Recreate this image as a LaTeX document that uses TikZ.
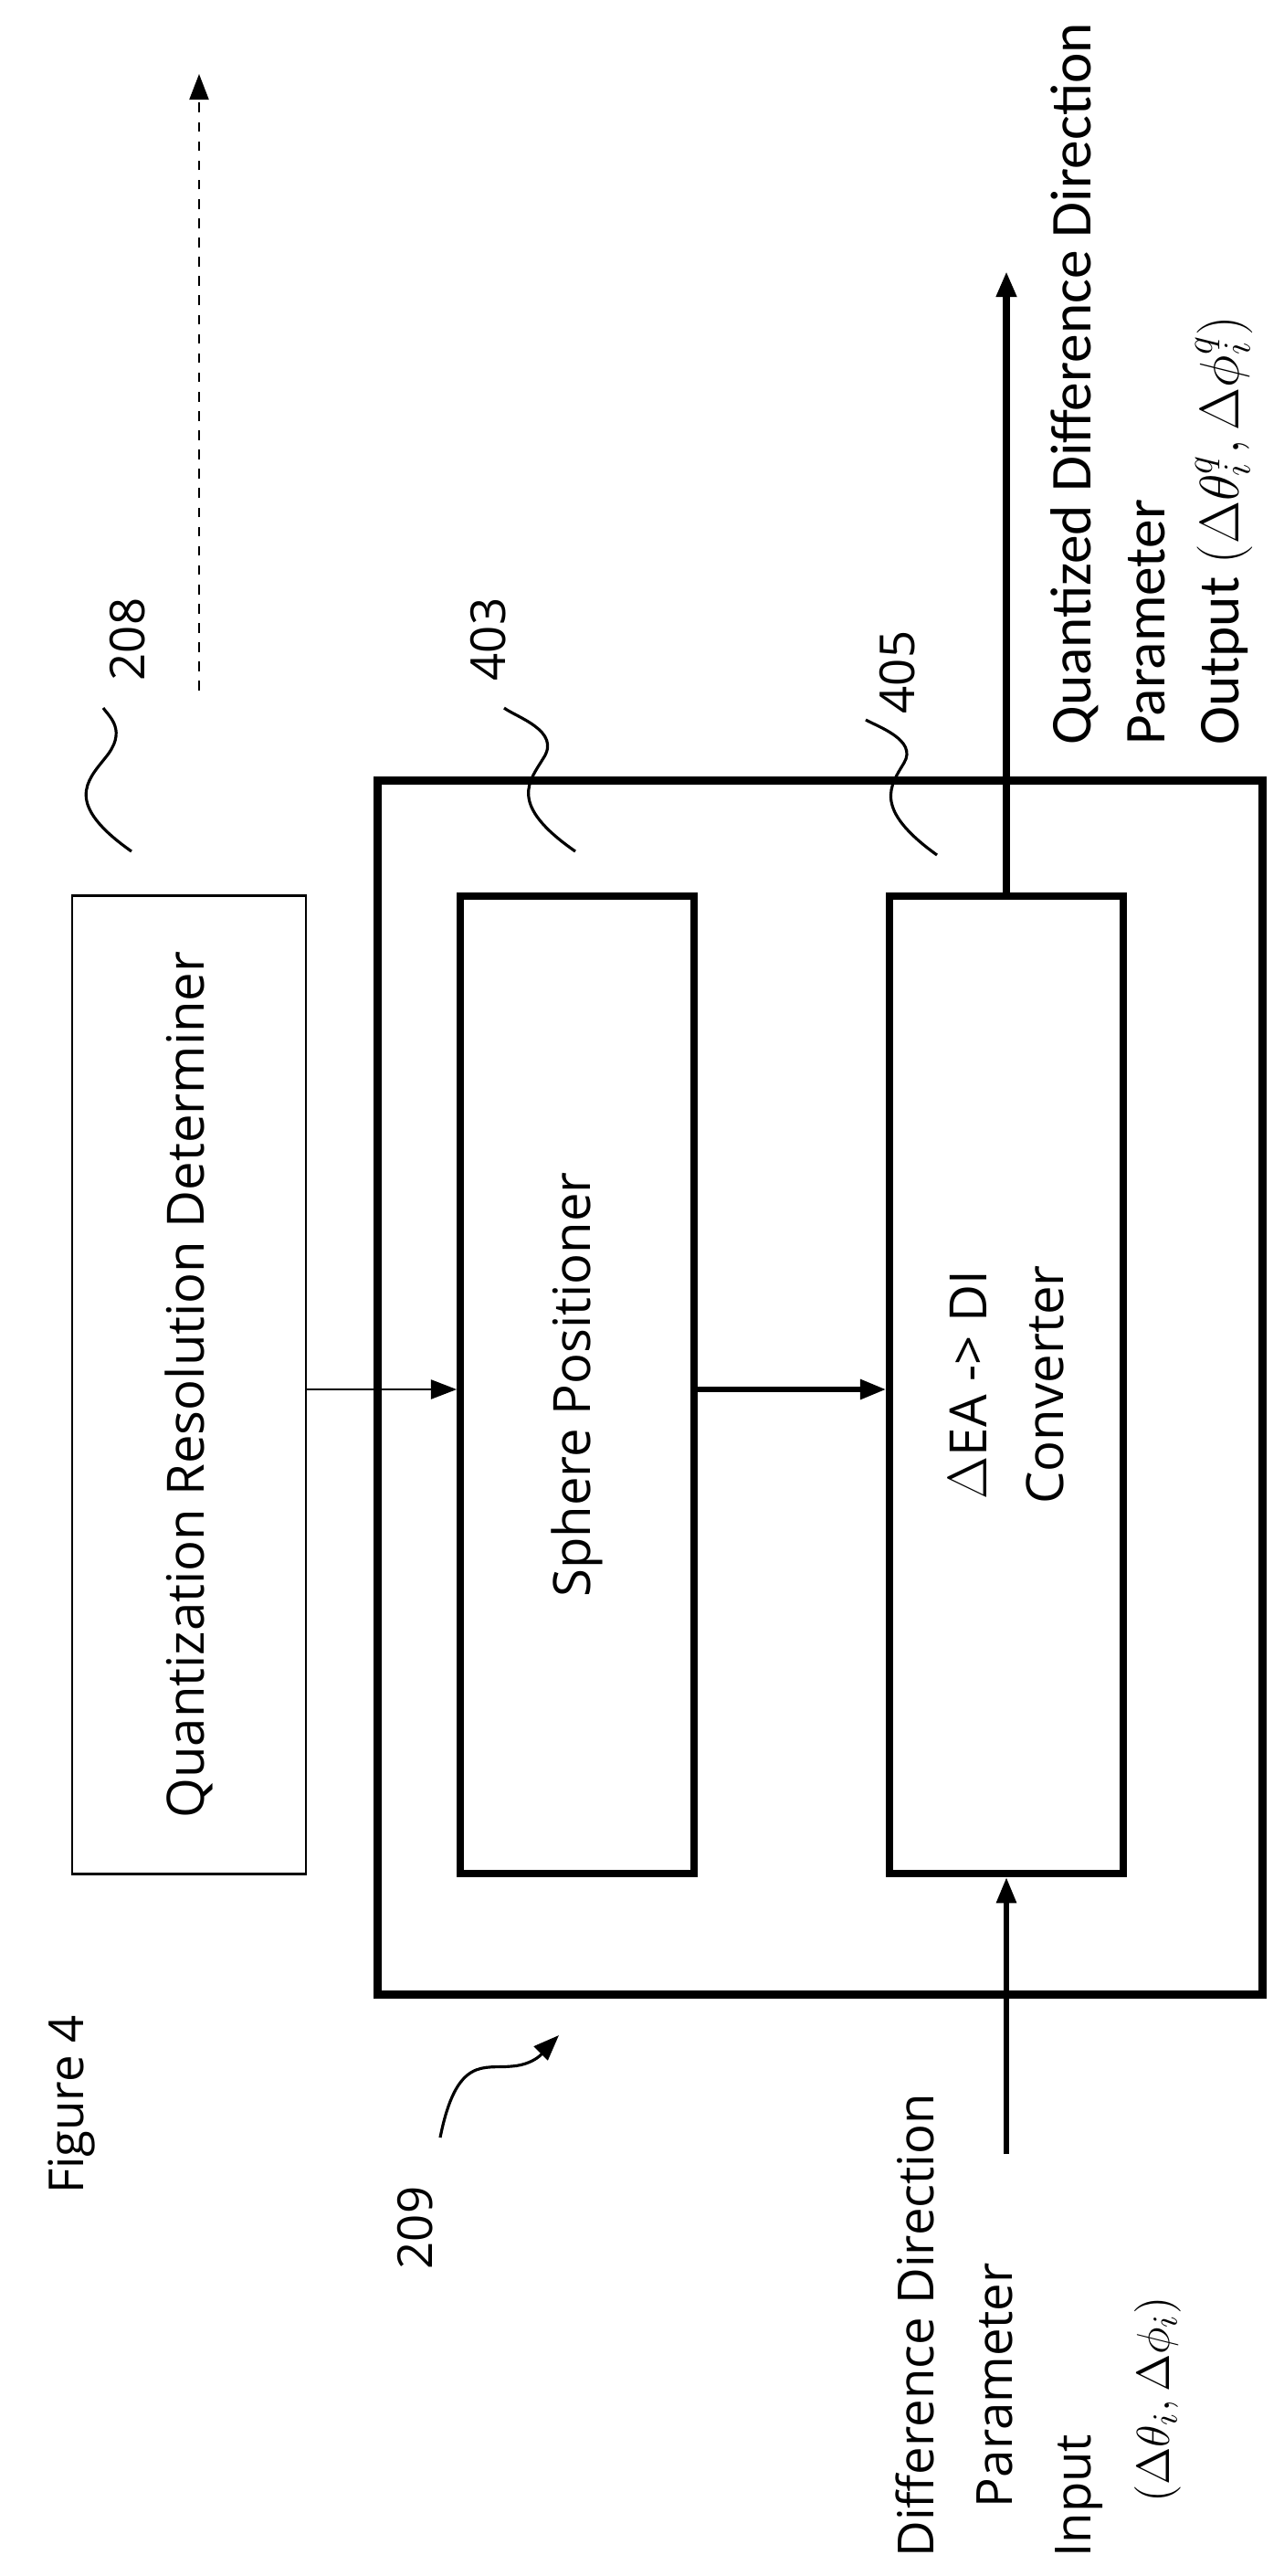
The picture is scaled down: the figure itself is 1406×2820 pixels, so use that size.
\documentclass[tikz,border=0pt]{standalone}
\usepackage{fontspec}
\setmainfont{Open Sans}
\newfontfamily\narrowfont{Carlito}
\usetikzlibrary{positioning,arrows.meta}

\begin{document}
\begin{tikzpicture}[x=0.01cm,y=-0.01cm,
    block/.style={draw,line width=2.2pt,minimum width=2.56cm,minimum height=10.7cm,inner sep=0pt},
    thinblock/.style={block,line width=0.8pt},
    boxtext/.style={rotate=90,font=\fontsize{16}{24}\selectfont,align=center},
    sidetext/.style={rotate=90,anchor=north west,align=left},
    refnum/.style={rotate=90,font=\fontsize{15}{18}\selectfont},
    squiggle/.style={line width=0.9pt},
    tip/.style={-{Triangle[length=8pt,width=6pt]}}]
    \useasboundingbox (0,0) rectangle (1406,2820);

    % Blocks
    \node[draw,line width=2.6pt,minimum width=9.68cm,minimum height=13.28cm] (outer) at (898,1519) {};
    \node[thinblock] (qrd) at (207,1516) {};
    \node[boxtext] at (qrd) {Quantization Resolution Determiner};
    \node[block] (sphere) at (632,1516) {};
    \node[boxtext] at (sphere) {Sphere Positioner};
    \node[block] (conv) at (1102,1516) {};
    \node[boxtext] at (conv) {$\Delta$EA -> DI\\Converter};

    % Connectors
    \draw[tip,line width=0.6pt] (qrd.east |- 0,1521) -- (sphere.west |- 0,1521);
    \draw[tip,line width=1.6pt] (sphere.east |- 0,1521) -- (conv.west |- 0,1521);
    \coordinate (out) at (1102,297);
    \coordinate (in) at (1102,2358);
    \draw[tip,line width=2pt] (conv.north) -- (out);
    \draw[tip,line width=1.6pt] (in) -- (conv.south);
    \coordinate (dashA) at (218,756);
    \coordinate (dashB) at (218,81);
    \draw[tip,dashed,line width=0.6pt] (dashA) -- (dashB);

    % Input and output texts
    \node[sidetext,font=\narrowfont\fontsize{18}{23}\selectfont] (outtxt) at (1138,828)
        {Quantized Difference Direction\\Parameter\\Output $\left(\Delta\theta_i^q,\Delta\phi_i^q\right)$};
    \node[sidetext,font=\fontsize{15.5}{24.5}\selectfont] (intxt) at (968,2812)
        {Difference Direction\\\hspace*{1em}Parameter\\Input\\\hspace*{1.1em}$\left(\Delta\theta_i,\Delta\phi_i\right)$};

    % Reference numerals
    \node[refnum] (n208) at (140,700) {208};
    \node[refnum] (n403) at (535,700) {403};
    \node[refnum] (n405) at (983,736) {405};
    \node[refnum] (n209) at (455,2439) {209};
    \node[rotate=90,font=\fontsize{15}{18}\selectfont] (fig) at (78,2304) {Figure 4};
    \draw[squiggle] (144,932) .. controls (70,880) and (95,855) .. (115,830) .. controls (140,800) and (120,785) .. (113,775);
    \draw[squiggle] (630,932) .. controls (555,880) and (580,855) .. (595,830) .. controls (615,800) and (565,785) .. (552,775);
    \draw[squiggle] (1026,936) .. controls (955,885) and (975,860) .. (990,835) .. controls (1005,810) and (960,795) .. (948,788);
    \draw[squiggle,tip] (482,2340) .. controls (500,2250) and (530,2265) .. (560,2262) .. controls (590,2260) and (600,2240) .. (612,2228);
\end{tikzpicture}
\end{document}
